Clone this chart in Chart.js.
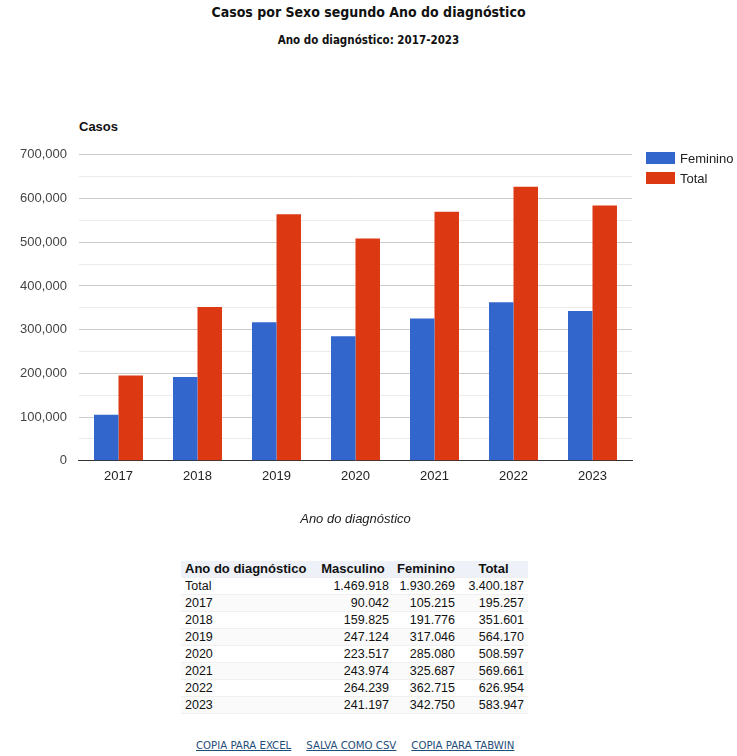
<!DOCTYPE html>
<html>
<head>
<meta charset="utf-8">
<script src="https://cdn.jsdelivr.net/npm/chart.js@4"></script>
<style>
    body { margin: 0; background: #fff; font-family: Arial, "Liberation Sans", sans-serif; }
    #page { position: relative; width: 737px; height: 756px; overflow: hidden; }
    .title { position: absolute; left: 0; width: 737px; text-align: center; font-family: "DejaVu Sans Condensed", "DejaVu Sans", sans-serif; font-weight: bold; color: #111; }
    #chartBox { position: absolute; left: 0; top: 135px; width: 737px; height: 396px; }
    #yTitle { position: absolute; left: 79px; top: 119px; font-size: 13px; font-weight: bold; color: #111; }
    #custom-legend { position: absolute; left: 646px; top: 148px; font-size: 13px; color: #222; }
    table { position: absolute; left: 181px; top: 561px; border-collapse: collapse; font-size: 12.5px; color: #111; }
    td, th { height: 16px; padding: 0 4px; line-height: 16px; border-bottom: 1px solid #f0f0f0; }
    th { background: #eef2f8; font-weight: bold; font-size: 13px; }
    td.n { text-align: right; }
    tr.alt td { background: #fafafa; }
    #links { position: absolute; top: 739px; left: 196px; font-family: "DejaVu Sans Condensed", "DejaVu Sans", sans-serif; font-size: 11.3px; }
    #links a { color: #1f4e79; text-decoration: underline; margin-right: 15px; }
</style>
</head>
<body>
<div id="page">
    <div class="title" style="top:4px;font-size:14px;">Casos por Sexo segundo Ano do diagnóstico</div>
    <div class="title" style="top:33px;font-size:11.5px;">Ano do diagnóstico: 2017-2023</div>
    <div id="yTitle">Casos</div>
    <div id="chartBox"><canvas id="chart"></canvas></div>
    <div id="custom-legend"></div>
    <table id="dataTable"></table>
    <div id="links"><a>COPIA PARA EXCEL</a><a>SALVA COMO CSV</a><a>COPIA PARA TABWIN</a></div>
</div>
<script>
const anos = ['2017', '2018', '2019', '2020', '2021', '2022', '2023'];
const masculino = [90042, 159825, 247124, 223517, 243974, 264239, 241197];
const feminino = [105215, 191776, 317046, 285080, 325687, 362715, 342750];
const total = [195257, 351601, 564170, 508597, 569661, 626954, 583947];
const cores = ['#3366cc', '#dc3912'];

// legenda própria
function montaLegenda() {
    const box = document.getElementById('custom-legend');
    ['Feminino', 'Total'].forEach((label, i) => {
        const item = document.createElement('div');
        item.style.display = 'flex';
        item.style.alignItems = 'center';
        item.style.height = '20px';
        const cor = document.createElement('div');
        cor.style.width = '29px';
        cor.style.height = '12px';
        cor.style.background = cores[i];
        cor.style.marginRight = '5px';
        const txt = document.createElement('span');
        txt.textContent = label;
        item.appendChild(cor);
        item.appendChild(txt);
        box.appendChild(item);
    });
}

function fmt(n) {
    return n.toString().replace(/\B(?=(\d{3})+(?!\d))/g, '.');
}

function montaTabela() {
    const t = document.getElementById('dataTable');
    const soma = a => a.reduce((s, v) => s + v, 0);
    let html = '<tr><th style="width:124px;text-align:left">Ano do diagnóstico</th><th style="width:72px">Masculino</th><th style="width:58px">Feminino</th><th style="width:61px">Total</th></tr>';
    html += '<tr><td>Total</td><td class="n">' + fmt(soma(masculino)) + '</td><td class="n">' + fmt(soma(feminino)) + '</td><td class="n">' + fmt(soma(total)) + '</td></tr>';
    anos.forEach((a, i) => {
        html += '<tr class="' + (i % 2 === 0 ? 'alt' : '') + '"><td>' + a + '</td><td class="n">' + fmt(masculino[i]) + '</td><td class="n">' + fmt(feminino[i]) + '</td><td class="n">' + fmt(total[i]) + '</td></tr>';
    });
    t.innerHTML = html;
}

const ctx = document.getElementById('chart').getContext('2d');
const chart = new Chart(ctx, {
    type: 'bar',
    data: {
        labels: anos,
        datasets: [
            { label: 'Feminino', data: feminino, backgroundColor: cores[0] },
            { label: 'Total', data: total, backgroundColor: cores[1] }
        ]
    },
    options: {
        responsive: true,
        maintainAspectRatio: false,
        animation: false,
        layout: { padding: { left: 8, right: 105, top: 8, bottom: 0 } },
        datasets: { bar: { categoryPercentage: 0.62, barPercentage: 1 } },
        scales: {
            x: {
                grid: { display: false },
                border: { color: '#333' },
                ticks: { color: '#222', font: { family: 'Arial', size: 13 }, padding: 0 },
                title: { display: true, text: 'Ano do diagnóstico', color: '#222',
                    font: { family: 'Arial', size: 13, style: 'italic' }, padding: { top: 27 } }
            },
            y: {
                min: 0,
                max: 700000,
                border: { display: false },
                ticks: {
                    stepSize: 50000,
                    color: '#444',
                    font: { family: 'Arial', size: 13 },
                    padding: 12,
                    callback: v => v % 100000 === 0 ? v.toLocaleString('en-US') : ''
                },
                grid: {
                    drawTicks: false,
                    color: c => c.tick && c.tick.value % 100000 === 0 ? '#cccccc' : '#ebebeb'
                }
            }
        },
        plugins: {
            legend: { display: false },
            tooltip: { enabled: false }
        }
    }
});

montaLegenda();
montaTabela();
</script>
</body>
</html>
